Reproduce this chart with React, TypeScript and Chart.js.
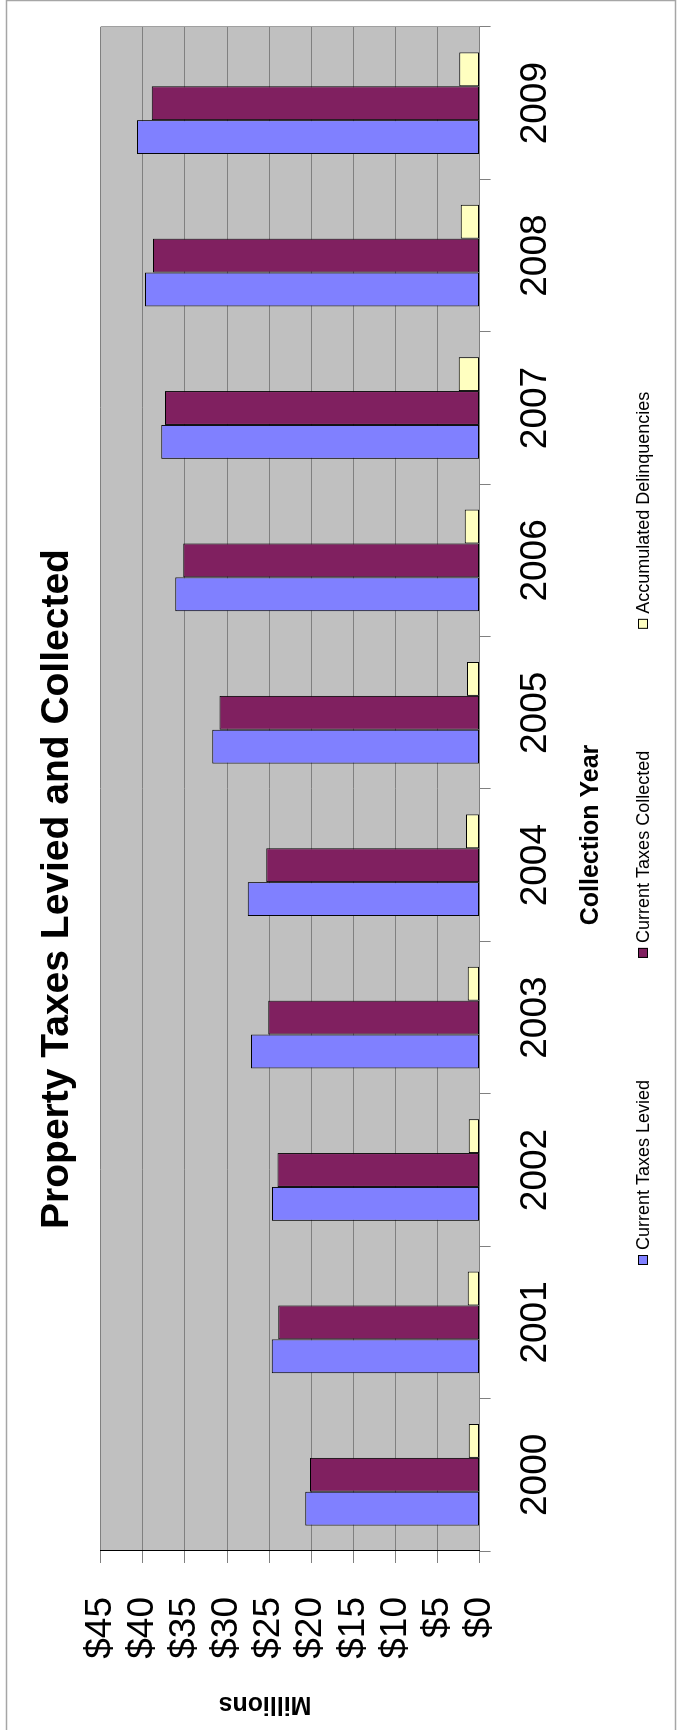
import React, { useEffect, useRef } from 'react';
import { Chart, registerables } from 'chart.js';

Chart.register(...registerables);

// Original (unrotated) canvas size; the canvas is rotated -90deg to fit the 679x1730 page.
const W = 1730;
const H = 679;
const FONT = '"Liberation Sans", Arial, Helvetica, sans-serif';

const categories = ['2000', '2001', '2002', '2003', '2004', '2005', '2006', '2007', '2008', '2009'];
const seriesNames = ['Current Taxes Levied', 'Current Taxes Collected', 'Accumulated Delinquencies'];
const levied = [20.7, 24.7, 24.65, 27.15, 27.55, 31.75, 36.15, 37.8, 39.75, 40.7];
const collected = [20.15, 23.9, 24.0, 25.1, 25.35, 30.9, 35.2, 37.35, 38.8, 38.95];
const delinquencies = [1.28, 1.4, 1.28, 1.4, 1.63, 1.5, 1.77, 2.48, 2.25, 2.41];
const valueTickLabels = ['$0', '$5', '$10', '$15', '$20', '$25', '$30', '$35', '$40', '$45'];
const chartTitle = 'Property Taxes Levied and Collected';
const xAxisTitle = 'Collection Year';
const yAxisTitle = 'Millions';
const seriesColors = ['#8080FF', '#802060', '#FFFFC0'];

const decor = {
  id: 'decor',
  beforeDraw(chart: any) {
    const { ctx, chartArea: a } = chart;
    ctx.save();
    ctx.fillStyle = '#ffffff';
    ctx.fillRect(0, 0, W, H);
    ctx.strokeStyle = '#a6a6a6';
    ctx.lineWidth = 1.5;
    ctx.strokeRect(-2, 6.5, W + 1.5, 669);
    ctx.fillStyle = '#c0c0c0';
    ctx.fillRect(a.left, a.top, a.right - a.left, a.bottom - a.top);
    ctx.restore();
  },
  afterDraw(chart: any) {
    const { ctx, chartArea: a } = chart;
    ctx.save();
    ctx.strokeStyle = '#a0a0a0';
    ctx.lineWidth = 1;
    ctx.beginPath();
    ctx.moveTo(Math.round(a.right) + 0.5, a.top);
    ctx.lineTo(Math.round(a.right) + 0.5, a.bottom);
    ctx.stroke();

    ctx.fillStyle = '#000';
    ctx.textAlign = 'center';
    ctx.textBaseline = 'alphabetic';
    ctx.font = `bold 39px ${FONT}`;
    ctx.fillText(chartTitle, 841, 68);

    ctx.font = `bold 25px ${FONT}`;
    ctx.textBaseline = 'middle';
    ctx.fillText(xAxisTitle, 895, 591);

    ctx.save();
    ctx.translate(26, 265);
    ctx.rotate(-Math.PI / 2);
    ctx.fillText(yAxisTitle, 0, 0);
    ctx.restore();

    ctx.font = `18px ${FONT}`;
    ctx.textAlign = 'left';
    ctx.textBaseline = 'middle';
    let x = 465;
    seriesNames.forEach((name, i) => {
      ctx.fillStyle = seriesColors[i];
      ctx.fillRect(x, 638, 10, 10);
      ctx.strokeStyle = '#000';
      ctx.lineWidth = 1;
      ctx.strokeRect(x + 0.5, 638.5, 9, 9);
      ctx.fillStyle = '#000';
      ctx.fillText(name, x + 15, 644);
      x += 15 + ctx.measureText(name).width + 122;
    });
    ctx.restore();
  },
};

export default function App() {
  const ref = useRef<HTMLCanvasElement>(null);

  useEffect(() => {
    document.body.style.margin = '0';
    document.body.style.overflow = 'hidden';
    const series = [levied, collected, delinquencies];
    const chart = new Chart(ref.current as HTMLCanvasElement, {
      type: 'bar',
      data: {
        labels: categories,
        datasets: series.map((d, i) => ({
          label: seriesNames[i],
          data: d,
          backgroundColor: seriesColors[i],
          borderColor: '#000',
          borderWidth: 1,
          borderSkipped: false,
          categoryPercentage: 0.667,
          barPercentage: 1,
        })),
      },
      options: {
        animation: false,
        responsive: false,
        devicePixelRatio: 1,
        layout: { padding: { top: 100.7, right: 27, bottom: 0, left: 0 } },
        plugins: {
          legend: { display: false },
          title: { display: false },
          tooltip: { enabled: false },
        },
        scales: {
          x: {
            grid: {
              offset: true,
              drawOnChartArea: false,
              drawTicks: true,
              tickLength: 11,
              color: '#808080',
            },
            border: { color: '#808080', width: 1 },
            ticks: {
              color: '#000',
              font: { family: FONT, size: 37 },
              padding: 23,
              maxRotation: 0,
              minRotation: 0,
              autoSkip: false,
            },
            afterFit: (s: any) => {
              s.height = H - 479.6;
            },
          },
          y: {
            min: 0,
            max: 45,
            ticks: {
              stepSize: 5,
              autoSkip: false,
              color: '#000',
              font: { family: FONT, size: 37 },
              padding: 34,
              callback: (_v: any, i: number) => valueTickLabels[i],
            },
            grid: { color: '#808080', tickLength: 12, drawTicks: true },
            border: { color: '#000', width: 1 },
            afterFit: (s: any) => {
              s.width = 179;
            },
          },
        },
      },
      plugins: [decor],
    } as any);
    return () => chart.destroy();
  }, []);

  return (
    <div
      style={{
        position: 'absolute',
        left: 0,
        top: 0,
        width: W,
        height: H,
        transformOrigin: '0 0',
        transform: `translateY(${W}px) rotate(-90deg)`,
        background: '#fff',
      }}
    >
      <canvas ref={ref} width={W} height={H} style={{ display: 'block', width: W, height: H }} />
    </div>
  );
}
